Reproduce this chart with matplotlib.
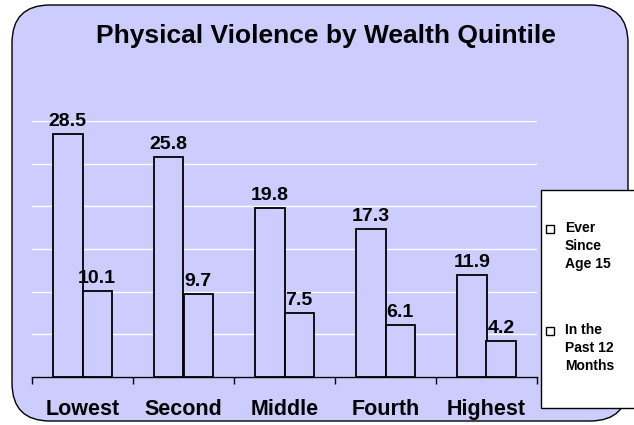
import matplotlib
matplotlib.use("Agg")
import numpy as np
import matplotlib.pyplot as plt
from matplotlib.patches import FancyBboxPatch, Rectangle
from matplotlib.lines import Line2D

plt.rcParams['font.family'] = ['Liberation Sans', 'DejaVu Sans']

categories = ['Lowest', 'Second', 'Middle', 'Fourth', 'Highest']
ever_since_15 = [28.5, 25.8, 19.8, 17.3, 11.9]
past_12_months = [10.1, 9.7, 7.5, 6.1, 4.2]
series_labels = ['Ever\nSince\nAge 15', 'In the\nPast 12\nMonths']

BG = '#CCCCFF'

fig = plt.figure(figsize=(6.34, 4.25), dpi=100)
fig.patch.set_facecolor('white')

# rounded lavender panel behind everything
panel = FancyBboxPatch((12 / 634, 4 / 425), 616 / 634, 416 / 425,
                       boxstyle='round,pad=0,rounding_size=0.06',
                       transform=fig.transFigure, facecolor=BG,
                       edgecolor='black', linewidth=1.0, zorder=-5,
                       mutation_aspect=634 / 425)
fig.patches.append(panel)

ax = fig.add_axes([32 / 634, 1 - 377 / 425, 505 / 634, 256 / 425])
ax.set_facecolor('none')

x = np.arange(len(categories))
w = 0.29
b1 = ax.bar(x - w / 2, ever_since_15, w, facecolor=BG, edgecolor='black',
            linewidth=1.3, zorder=3)
b2 = ax.bar(x + w / 2, past_12_months, w, facecolor=BG, edgecolor='black',
            linewidth=1.3, zorder=3)

for bars in (b1, b2):
    for rect in bars:
        h = rect.get_height()
        ax.text(rect.get_x() + rect.get_width() / 2, h + 0.5, f'{h:.1f}',
                ha='center', va='bottom', fontsize=14, fontweight='bold',
                clip_on=False, zorder=4)

ax.set_xlim(-0.5, len(categories) - 0.5)
ax.set_ylim(0, 30)
ax.set_yticks(np.arange(0, 31, 5))
ax.yaxis.grid(True, color='white', linewidth=1.0, zorder=1)
ax.tick_params(axis='y', left=False, labelleft=False)

ax.set_xticks(np.arange(-0.5, len(categories)), minor=False)
ax.set_xticklabels([])
ax.set_xticks(x, minor=True)
ax.set_xticklabels(categories, minor=True, fontsize=15.5, fontweight='bold')
ax.tick_params(axis='x', which='major', direction='out', length=5,
               width=1, color='black')
ax.tick_params(axis='x', which='minor', length=0, pad=16)

for s in ['top', 'right', 'left']:
    ax.spines[s].set_visible(False)
ax.spines['bottom'].set_linewidth(1)

fig.text(326 / 634, 1 - 36 / 425, 'Physical Violence by Wealth Quintile',
         ha='center', va='center', fontsize=19, fontweight='bold')

# legend box, drawn by hand so the marker sits on the first line of each entry
leg_box = Rectangle((541 / 634, 1 - 408 / 425), 100 / 634, 218 / 425,
                    transform=fig.transFigure, facecolor='white',
                    edgecolor='black', linewidth=1, zorder=5)
fig.patches.append(leg_box)
for label, y_px in zip(series_labels, [221, 323]):
    fig.add_artist(Line2D([550 / 634], [1 - (y_px + 8) / 425], marker='s',
                          linestyle='none', markersize=6,
                          markerfacecolor='white', markeredgecolor='black',
                          markeredgewidth=1, transform=fig.transFigure,
                          zorder=6))
    fig.text(565 / 634, 1 - y_px / 425, label, ha='left', va='top',
             fontsize=10, fontweight='bold', linespacing=1.35, zorder=6)

fig.savefig('out.png', dpi=100)
